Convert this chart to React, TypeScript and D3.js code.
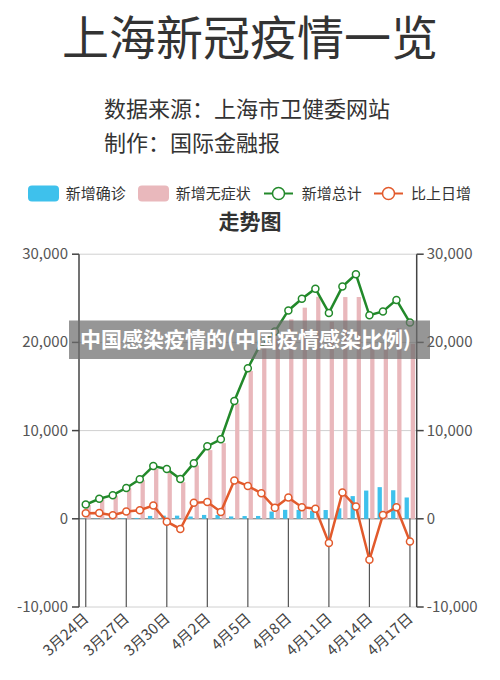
import React from 'react';
import * as d3 from 'd3';

const dates = ['3月24日','3月25日','3月26日','3月27日','3月28日','3月29日','3月30日','3月31日','4月1日','4月2日','4月3日','4月4日','4月5日','4月6日','4月7日','4月8日','4月9日','4月10日','4月11日','4月12日','4月13日','4月14日','4月15日','4月16日','4月17日'];
const confirmed = [29,38,45,50,96,326,355,358,260,438,425,268,311,322,824,1015,1006,914,994,1189,2573,3200,3590,3238,2417];
const asymptomatic = [1580,2231,2631,3450,4381,5656,5298,4144,6051,7788,8581,13086,16766,19660,20398,22609,23937,25173,22348,25141,25146,19872,19923,21582,19831];
const total = [1609,2269,2676,3500,4477,5982,5653,4502,6311,8226,9006,13354,17077,19982,21222,23624,24943,26087,23342,26330,27719,23072,23513,24820,22248];
const change = [626,660,407,824,977,1505,-329,-1151,1809,1915,780,4348,3723,2905,1240,2402,1319,1144,-2745,2988,1389,-4647,441,1307,-2572];
const yTicks = [-10000, 0, 10000, 20000, 30000];
const labelDates = ['3月24日','3月27日','3月30日','4月2日','4月5日','4月8日','4月11日','4月14日','4月17日'];

const FONT = '"Noto Sans CJK SC", "Noto Sans", sans-serif';
const C_BLUE = '#3ec1ec';
const C_PINK = '#e9b8bc';
const C_GREEN = '#22892a';
const C_ORANGE = '#e25a2c';

export default function App() {
  const left = 79, right = 416.7, top = 254.2, bottom = 607;
  const x = d3.scaleBand<string>().domain(dates).range([left, right]).padding(0);
  const bw = x.bandwidth();
  const sub = d3.scaleBand<string>().domain(['c', 'a']).range([1.4, 11.8]).paddingInner(0.3).paddingOuter(0);
  const y = d3.scaleLinear().domain([-10000, 30000]).range([bottom, top]);
  const cx = (d: string) => (x(d) as number) + bw / 2;
  const fmt = d3.format(',');
  const lineGen = d3.line<number>().x((_, i) => cx(dates[i])).y(v => y(v));

  const legendItems = [
    { type: 'rect', color: C_BLUE, label: '新增确诊', x0: 28, tx: 65.7 },
    { type: 'rect', color: C_PINK, label: '新增无症状', x0: 138, tx: 175.7 },
    { type: 'line', color: C_GREEN, label: '新增总计', x0: 264, tx: 301.7 },
    { type: 'line', color: C_ORANGE, label: '比上日增', x0: 374, tx: 411 },
  ];
  const ly = 193.5;

  return (
    <svg width={500} height={680} style={{ position: 'absolute', left: 0, top: 0, background: '#fff' }} fontFamily={FONT}>
      <rect x={0} y={0} width={500} height={680} fill="#fff" />
      <text x={250} y={55} textAnchor="middle" fontSize={47} fill="#333">上海新冠疫情一览</text>
      <text x={104} y={117} fontSize={22} fill="#333">数据来源：上海市卫健委网站</text>
      <text x={104} y={150.5} fontSize={22} fill="#333">制作：国际金融报</text>

      {legendItems.map(it => (
        <g key={it.label}>
          {it.type === 'rect' ? (
            <rect x={it.x0} y={ly - 8} width={31} height={16} rx={4} fill={it.color} />
          ) : (
            <g>
              <line x1={it.x0} x2={it.x0 + 29} y1={ly} y2={ly} stroke={it.color} strokeWidth={2} />
              <circle cx={it.x0 + 14.5} cy={ly} r={6} fill="#fff" stroke={it.color} strokeWidth={1.5} />
            </g>
          )}
          <text x={it.tx} y={ly + 5.5} fontSize={15} fill="#333">{it.label}</text>
        </g>
      ))}
      <text x={250} y={229} textAnchor="middle" fontSize={21} fontWeight="bold" fill="#333">走势图</text>

      {yTicks.map(t => (
        <line key={'g' + t} x1={left} x2={right} y1={y(t)} y2={y(t)} stroke={t === 0 ? '#666' : '#d0d0d0'} strokeWidth={1} />
      ))}
      {labelDates.map(d => (
        <line key={'xt' + d} x1={cx(d)} x2={cx(d)} y1={y(0)} y2={y(-10000)} stroke="#555" strokeWidth={1.2} />
      ))}

      {dates.map((d, i) => (
        <g key={'b' + d}>
          <rect x={(x(d) as number) + (sub('c') as number)} width={sub.bandwidth()} y={y(confirmed[i])} height={y(0) - y(confirmed[i])} fill={C_BLUE} />
          <rect x={(x(d) as number) + (sub('a') as number)} width={sub.bandwidth()} y={y(asymptomatic[i])} height={y(0) - y(asymptomatic[i])} fill={C_PINK} />
        </g>
      ))}

      <line x1={left} x2={left} y1={top} y2={bottom} stroke="#444" strokeWidth={1.5} />
      <line x1={right} x2={right} y1={top} y2={bottom} stroke="#444" strokeWidth={1.5} />
      {yTicks.map(t => (
        <g key={'yt' + t}>
          <line x1={left - 7} x2={left} y1={y(t)} y2={y(t)} stroke="#444" strokeWidth={1.5} />
          <text x={left - 11} y={y(t) + 5} textAnchor="end" fontSize={15} fill="#555">{fmt(t).replace('−', '-')}</text>
          <line x1={right} x2={right + 7} y1={y(t)} y2={y(t)} stroke="#444" strokeWidth={1.5} />
          <text x={right + 10} y={y(t) + 5} textAnchor="start" fontSize={15} fill="#555">{fmt(t).replace('−', '-')}</text>
        </g>
      ))}

      <path d={lineGen(total) || ''} fill="none" stroke={C_GREEN} strokeWidth={2.5} />
      {total.map((v, i) => (
        <circle key={'tg' + i} cx={cx(dates[i])} cy={y(v)} r={3.5} fill="#fff" stroke={C_GREEN} strokeWidth={1.5} />
      ))}
      <path d={lineGen(change) || ''} fill="none" stroke={C_ORANGE} strokeWidth={2.5} />
      {change.map((v, i) => (
        <circle key={'tc' + i} cx={cx(dates[i])} cy={y(v)} r={3.5} fill="#fff" stroke={C_ORANGE} strokeWidth={1.5} />
      ))}

      {labelDates.map(d => (
        <text key={'xl' + d} transform={`translate(${cx(d) + 4},${620}) rotate(-42)`} textAnchor="end" fontSize={15} fill="#444">{d}</text>
      ))}

      <rect x={69} y={320.5} width={361} height={38.5} fill="rgba(110,110,110,0.72)" />
      <text x={80} y={347} fontSize={21} fontWeight="bold" fill="#fff">中国感染疫情的(中国疫情感染比例)</text>
    </svg>
  );
}
